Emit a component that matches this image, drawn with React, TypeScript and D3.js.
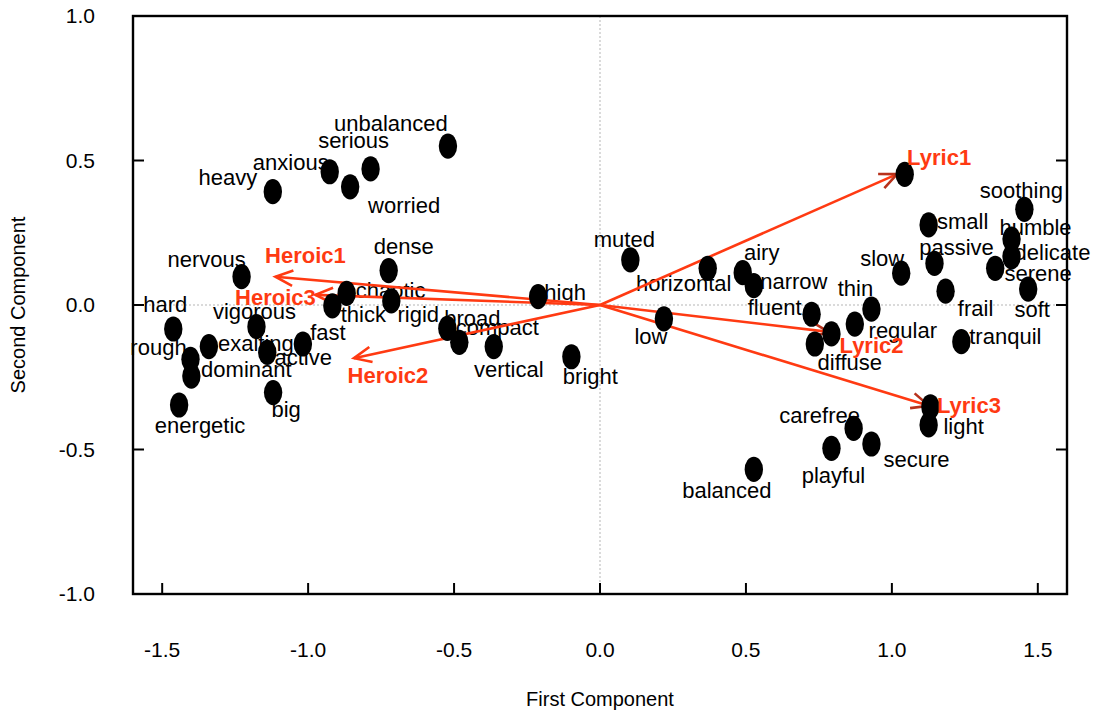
import React from "react";
import * as d3 from "d3";

// ---------- data ----------
const termNames = [
  "unbalanced", "serious", "anxious", "heavy", "worried",
  "nervous", "hard", "rough", "vigorous", "exalting", "dominant", "active", "fast", "big", "energetic",
  "thick", "rigid", "chaotic", "dense", "broad", "compact", "vertical", "high", "bright",
  "muted", "horizontal", "low", "airy", "narrow", "fluent", "diffuse", "regular", "thin", "slow",
  "small", "passive", "frail", "tranquil", "serene", "humble", "delicate", "soothing", "soft",
  "light", "carefree", "secure", "playful", "balanced",
  "", "", "",
];
const termX = [
  -0.521, -0.786, -0.926, -1.121, -0.856,
  -1.228, -1.462, -1.403, -1.177, -1.34, -1.4, -1.14, -1.018, -1.12, -1.442,
  -0.917, -0.715, -0.868, -0.724, -0.523, -0.482, -0.364, -0.212, -0.098,
  0.104, 0.369, 0.219, 0.489, 0.527, 0.725, 0.736, 0.873, 0.93, 1.032,
  1.126, 1.146, 1.184, 1.238, 1.354, 1.41, 1.41, 1.454, 1.467,
  1.126, 0.869, 0.93, 0.793, 0.527,
  1.044, 0.793, 1.132,
];
const termY = [
  0.55, 0.471, 0.461, 0.392, 0.409,
  0.098, -0.083, -0.188, -0.075, -0.144, -0.246, -0.164, -0.135, -0.303, -0.346,
  -0.003, 0.014, 0.04, 0.119, -0.081, -0.129, -0.144, 0.029, -0.179,
  0.156, 0.127, -0.048, 0.112, 0.067, -0.032, -0.135, -0.066, -0.014, 0.11,
  0.277, 0.144, 0.048, -0.127, 0.127, 0.228, 0.167, 0.331, 0.055,
  -0.415, -0.427, -0.481, -0.496, -0.569,
  0.452, -0.1, -0.352,
];

const vectorNames = ["Lyric1", "Lyric2", "Lyric3", "Heroic1", "Heroic3", "Heroic2"];
const vectorX = [1.018, 0.783, 1.127, -1.112, -0.975, -0.843];
const vectorY = [0.453, -0.093, -0.349, 0.098, 0.035, -0.184];

const xTicks = [-1.5, -1.0, -0.5, 0.0, 0.5, 1.0, 1.5];
const yTicks = [-1.0, -0.5, 0.0, 0.5, 1.0];

// ---------- layout (pixel offsets of labels, not data) ----------
const termLabelOffsets: [number, number][] = [
  [-57, -15], [-17, -21], [-39, -2], [-45, -7], [54, 26],
  [-35, -10], [-8, -17], [-32, -4], [-2, -8], [47, 4], [55, 1], [36, 13], [25, -4], [13, 24], [21, 28],
  [31, 16], [27, 21], [44, 5], [15, -17], [25, -2], [38, -7], [15, 30], [27, 3], [19, 27],
  [-6, -13], [-24, 23], [-13, 25], [19, -13], [40, 3], [-37, 1], [35, 26], [48, 14], [-16, -13], [-19, -7],
  [34, 4], [22, -8], [30, 25], [44, 2], [43, 13], [24, -4], [41, 3], [-3, -11], [4, 28],
  [35, 9], [-34, -5], [45, 23], [2, 35], [-27, 29],
  [0, 0], [0, 0], [0, 0],
];
const vectorLabelOffsets: [number, number][] = [
  [42, -9], [43, 21], [40, 7], [30, -14], [-40, 10], [34, 25],
];

const W = 1104;
const H = 718;
const RED = "#ff3a12";
const HEAD_DARK = "#b8321c";
const FONT = "'Liberation Sans', Arial, Helvetica, sans-serif";

const fmt = (t: number) => d3.format(".1f")(t).replace("\u2212", "-");

export default function App() {
  const x = d3.scaleLinear().domain([-1.6, 1.6]).range([133, 1067]);
  const y = d3.scaleLinear().domain([-1, 1]).range([594, 16]);
  const [x0, x1] = x.range();
  const [y0, y1] = y.range();
  const tickLen = 11;

  const arrowHead = (tx: number, ty: number, ox: number, oy: number) => {
    const ang = Math.atan2(ty - oy, tx - ox);
    const len = 19;
    const spread = (24 * Math.PI) / 180;
    const a1 = ang + Math.PI - spread;
    const a2 = ang + Math.PI + spread;
    const line = d3.line();
    return line([
      [tx + len * Math.cos(a1), ty + len * Math.sin(a1)],
      [tx, ty],
      [tx + len * Math.cos(a2), ty + len * Math.sin(a2)],
    ]) as string;
  };

  return (
    <svg
      width={W}
      height={H}
      style={{ position: "absolute", left: 0, top: 0, background: "#fff" }}
      fontFamily={FONT}
    >
      <rect x={0} y={0} width={W} height={H} fill="#fff" />
      {/* zero reference lines */}
      <line x1={x(0)} x2={x(0)} y1={y1} y2={y0} stroke="#b5b5b5" strokeWidth={1} strokeDasharray="2,2" />
      <line x1={x0} x2={x1} y1={y(0)} y2={y(0)} stroke="#b5b5b5" strokeWidth={1} strokeDasharray="2,2" />

      {/* term labels */}
      {termNames.map((n, i) =>
        n ? (
          <text
            key={"tl" + i}
            x={x(termX[i]) + termLabelOffsets[i][0]}
            y={y(termY[i]) + termLabelOffsets[i][1]}
            textAnchor="middle"
            fontSize={22}
            fill="#000"
          >
            {n}
          </text>
        ) : null
      )}

      {/* vectors */}
      {vectorNames.map((n, i) => {
        const tx = x(vectorX[i]);
        const ty = y(vectorY[i]);
        return (
          <g key={"v" + i}>
            <line x1={x(0)} y1={y(0)} x2={tx} y2={ty} stroke={RED} strokeWidth={2.6} />
            <path
              d={arrowHead(tx, ty, x(0), y(0))}
              fill="none"
              stroke={n.startsWith("Lyric") ? HEAD_DARK : RED}
              strokeWidth={2.6}
            />
          </g>
        );
      })}

      {/* points */}
      {termX.map((v, i) => (
        <ellipse key={"p" + i} cx={x(v)} cy={y(termY[i])} rx={9.2} ry={12.6} fill="#000" />
      ))}

      {/* vector labels */}
      {vectorNames.map((n, i) => (
        <text
          key={"vl" + i}
          x={x(vectorX[i]) + vectorLabelOffsets[i][0]}
          y={y(vectorY[i]) + vectorLabelOffsets[i][1]}
          textAnchor="middle"
          fontSize={22}
          fontWeight="bold"
          fill={RED}
        >
          {n}
        </text>
      ))}

      {/* frame */}
      <rect x={x0} y={y1} width={x1 - x0} height={y0 - y1} fill="none" stroke="#000" strokeWidth={2.4} />

      {/* bottom ticks (inward) */}
      {xTicks.map((t) => (
        <g key={"xt" + t}>
          <line x1={x(t)} x2={x(t)} y1={y0} y2={y0 - tickLen} stroke="#000" strokeWidth={2} />
          <text x={x(t)} y={657} textAnchor="middle" fontSize={21} fill="#000">
            {fmt(t)}
          </text>
        </g>
      ))}

      {/* left and right ticks (inward) */}
      {yTicks.map((t) => (
        <g key={"yt" + t}>
          <line x1={x0} x2={x0 + tickLen} y1={y(t)} y2={y(t)} stroke="#000" strokeWidth={2} />
          <line x1={x1} x2={x1 - tickLen} y1={y(t)} y2={y(t)} stroke="#000" strokeWidth={2} />
          <text x={95} y={y(t)} dy="0.35em" textAnchor="end" fontSize={21} fill="#000">
            {fmt(t)}
          </text>
        </g>
      ))}

      {/* axis titles */}
      <text x={(x0 + x1) / 2} y={706} textAnchor="middle" fontSize={20} fill="#000">
        First Component
      </text>
      <text
        transform={`translate(25, ${(y0 + y1) / 2}) rotate(-90)`}
        textAnchor="middle"
        fontSize={20}
        fill="#000"
      >
        Second Component
      </text>
    </svg>
  );
}
